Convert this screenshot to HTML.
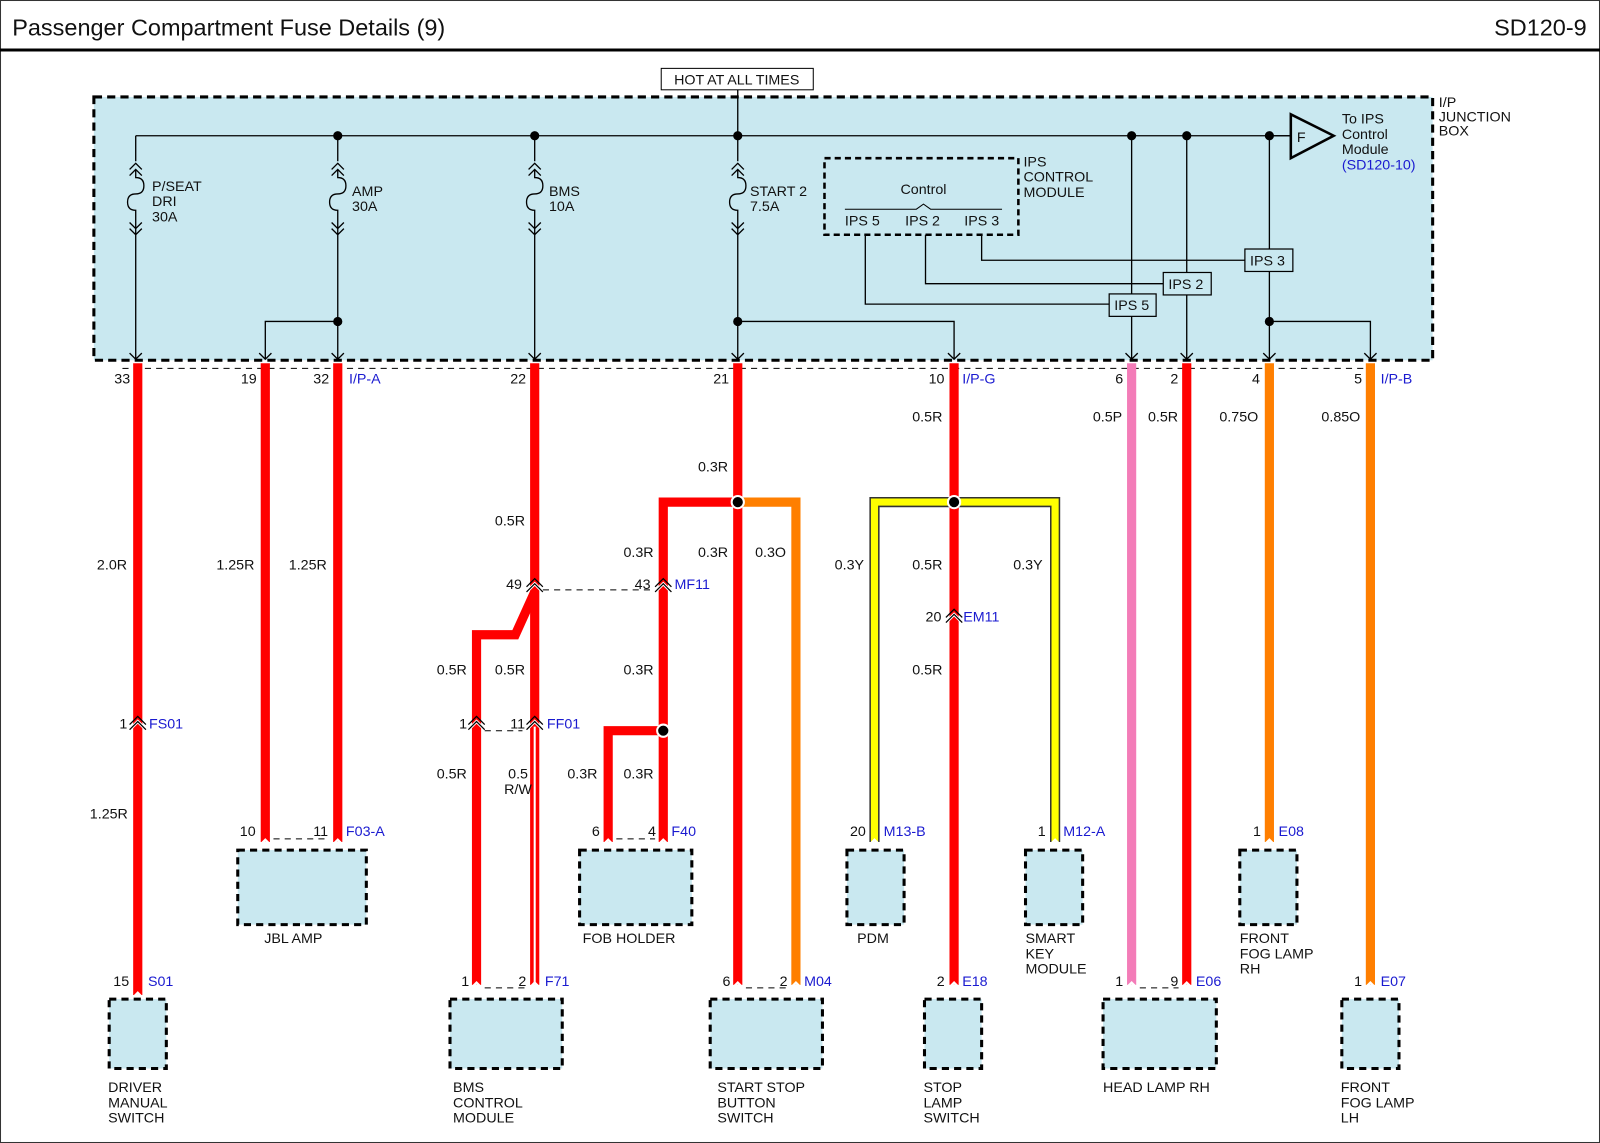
<!DOCTYPE html>
<html><head><meta charset="utf-8"><style>
html,body{margin:0;padding:0;background:#fff}
svg{display:block}
text{font-family:"Liberation Sans",Arial,sans-serif;font-size:14px;fill:#111}
.b{fill:#1a1ad0}
</style></head><body>
<svg width="1600" height="1143" viewBox="0 0 1568 1120" preserveAspectRatio="none" xmlns="http://www.w3.org/2000/svg">
<rect x="0.5" y="0.5" width="1567" height="1119" fill="#fff" stroke="#333"/>
<text x="12" y="35" style="font-size:23px">Passenger Compartment Fuse Details (9)</text>
<text x="1555" y="35" text-anchor="end" style="font-size:23px">SD120-9</text>
<line x1="0" y1="49" x2="1568" y2="49" stroke="#000" stroke-width="3"/>

<rect x="92" y="95" width="1312" height="258" fill="#c9e8f0" stroke="#000" stroke-width="3" stroke-dasharray="8,5"/>
<text x="1410" y="105">I/P</text><text x="1410" y="119">JUNCTION</text><text x="1410" y="133">BOX</text>
<rect x="648" y="67" width="149" height="21" fill="#fff" stroke="#000"/>
<text x="722" y="83" text-anchor="middle">HOT AT ALL TIMES</text>

<g stroke="#000" stroke-width="1.3" fill="none">
<line x1="723" y1="88" x2="723" y2="133"/>
<line x1="133" y1="133" x2="1265" y2="133"/>
<path d="M133 133V158M127 166l6-6 6 6M127 172l6-6 6 6M133 166V174q8 0 8 8t-8 8q-8 0-8 8t8 8V222M127 218l6 6 6-6M127 224l6 6 6-6M133 222V352M127 346l6 6 6-6"/>
<path d="M331 133V158M325 166l6-6 6 6M325 172l6-6 6 6M331 166V174q8 0 8 8t-8 8q-8 0-8 8t8 8V222M325 218l6 6 6-6M325 224l6 6 6-6M331 222V352M325 346l6 6 6-6"/>
<path d="M524 133V158M518 166l6-6 6 6M518 172l6-6 6 6M524 166V174q8 0 8 8t-8 8q-8 0-8 8t8 8V222M518 218l6 6 6-6M518 224l6 6 6-6M524 222V352M518 346l6 6 6-6"/>
<path d="M723 133V158M717 166l6-6 6 6M717 172l6-6 6 6M723 166V174q8 0 8 8t-8 8q-8 0-8 8t8 8V222M717 218l6 6 6-6M717 224l6 6 6-6M723 222V352M717 346l6 6 6-6"/>
<path d="M331 315H260V352M254 346l6 6 6-6"/>
<path d="M723 315H935V352M929 346l6 6 6-6"/>
<path d="M1244 133V352M1238 346l6 6 6-6M1244 315H1343V352M1337 346l6 6 6-6"/>
<path d="M1109 133V352M1103 346l6 6 6-6"/>
<path d="M1163 133V352M1157 346l6 6 6-6"/>
<path d="M848 230V298H1087M907 230V278H1140M962 230V255H1220"/>
<line x1="1244" y1="133" x2="1265" y2="133"/>
</g>
<g fill="#000">
<circle cx="331" cy="133" r="4.5"/><circle cx="524" cy="133" r="4.5"/><circle cx="723" cy="133" r="4.5"/>
<circle cx="1109" cy="133" r="4.5"/><circle cx="1163" cy="133" r="4.5"/><circle cx="1244" cy="133" r="4.5"/>
<circle cx="331" cy="315" r="4.5"/><circle cx="723" cy="315" r="4.5"/><circle cx="1244" cy="315" r="4.5"/>
</g>
<text x="149" y="187">P/SEAT</text><text x="149" y="202">DRI</text><text x="149" y="217">30A</text>
<text x="345" y="192">AMP</text><text x="345" y="207">30A</text>
<text x="538" y="192">BMS</text><text x="538" y="207">10A</text>
<text x="735" y="192">START 2</text><text x="735" y="207">7.5A</text>
<rect x="808" y="155" width="190" height="75" fill="none" stroke="#000" stroke-width="2.5" stroke-dasharray="6,4"/>
<text x="1003" y="163">IPS</text><text x="1003" y="178">CONTROL</text><text x="1003" y="193">MODULE</text>
<text x="905" y="190" text-anchor="middle">Control</text>
<path d="M828 205H898l7-5 7 5H982" fill="none" stroke="#000"/>
<text x="828" y="221">IPS 5</text><text x="887" y="221">IPS 2</text><text x="945" y="221">IPS 3</text>
<g fill="#c9e8f0" stroke="#000" stroke-width="1.2">
<rect x="1087" y="288" width="46" height="22"/><rect x="1140" y="267" width="47" height="22"/><rect x="1220" y="244" width="47" height="22"/>
</g>
<text x="1092" y="304">IPS 5</text><text x="1145" y="283">IPS 2</text><text x="1225" y="260">IPS 3</text>
<path d="M1265 112V155L1307 133Z" fill="#c9e8f0" stroke="#000" stroke-width="2.5"/>
<text x="1271" y="139" style="font-size:14px">F</text>
<text x="1315" y="121">To IPS</text><text x="1315" y="136">Control</text><text x="1315" y="151">Module</text><text x="1315" y="166" class="b">(SD120-10)</text>

<line x1="120" y1="361" x2="1350" y2="361" stroke="#000" stroke-dasharray="6,5"/>

<g fill="none" stroke-width="9" stroke-linejoin="miter">
<path d="M135 356V975" stroke="#f00"/>
<path d="M260 356V825M331 356V825" stroke="#f00"/>
<path d="M524 356V965" stroke="#f00"/>
<path d="M524 580L505 622H467V965" stroke="#f00"/>
<path d="M723 356V965" stroke="#f00"/>
<path d="M723 492H650V825M650 716H596V825" stroke="#f00"/>
<path d="M723 492H780V965" stroke="#ff7f00"/>
<path d="M935 356V965" stroke="#f00"/>
<path d="M1109 356V965" stroke="#f37cb8"/>
<path d="M1163 356V965" stroke="#f00"/>
<path d="M1244 356V825" stroke="#ff7f00"/>
<path d="M1343 356V965" stroke="#ff7f00"/>
<path d="M935 492H857V825M935 492H1034V825" stroke="#333" stroke-width="10"/>
<path d="M935 492H857V825M935 492H1034V825" stroke="#ff0" stroke-width="7"/>
<path d="M935 488V500" stroke="#f00"/>
</g>
<line x1="524" y1="712" x2="524" y2="965" stroke="#fff" stroke-width="2"/>
<g fill="#000" stroke="#fff" stroke-width="2">
<circle cx="723" cy="492" r="6"/><circle cx="935" cy="492" r="6"/><circle cx="650" cy="716" r="6"/>
</g>

<g fill="none" stroke="#fff" stroke-width="3">
<path d="M128 714l7-7 7 7M517 579l7-7 7 7M643 579l7-7 7 7M928 609l7-7 7 7M460 714l7-7 7 7M517 714l7-7 7 7"/>
</g>
<g fill="none" stroke="#000" stroke-width="1.2">
<path d="M127 710l8-8 8 8M127 715l8-8 8 8M516 575l8-8 8 8M516 580l8-8 8 8M642 575l8-8 8 8M642 580l8-8 8 8M927 605l8-8 8 8M927 610l8-8 8 8M459 710l8-8 8 8M459 715l8-8 8 8M516 710l8-8 8 8M516 715l8-8 8 8"/>
</g>
<g stroke="#000" stroke-dasharray="6,5"><line x1="532" y1="578" x2="640" y2="578"/><line x1="475" y1="716" x2="512" y2="716"/>
<line x1="268" y1="822" x2="323" y2="822"/><line x1="475" y1="968" x2="516" y2="968"/><line x1="731" y1="968" x2="772" y2="968"/><line x1="1117" y1="968" x2="1155" y2="968"/><line x1="604" y1="822" x2="642" y2="822"/></g>

<g fill="none" stroke="#fff" stroke-width="2.5">
<path d="M129 979l6-6 6 6M254 829l6-6 6 6M325 829l6-6 6 6M461 969l6-6 6 6M518 969l6-6 6 6M590 829l6-6 6 6M644 829l6-6 6 6M717 969l6-6 6 6M774 969l6-6 6 6M851 829l6-6 6 6M1028 829l6-6 6 6M929 969l6-6 6 6M1103 969l6-6 6 6M1157 969l6-6 6 6M1238 829l6-6 6 6M1337 969l6-6 6 6"/>
</g>

<text x="112" y="376">33</text><text x="236" y="376">19</text><text x="307" y="376">32</text><text x="342" y="376" class="b">I/P-A</text>
<text x="500" y="376">22</text><text x="699" y="376">21</text><text x="910" y="376">10</text><text x="943" y="376" class="b">I/P-G</text>
<text x="1093" y="376">6</text><text x="1147" y="376">2</text><text x="1227" y="376">4</text><text x="1327" y="376">5</text><text x="1353" y="376" class="b">I/P-B</text>

<text x="95" y="558">2.0R</text><text x="212" y="558">1.25R</text><text x="283" y="558">1.25R</text>
<text x="485" y="515">0.5R</text><text x="684" y="462">0.3R</text>
<text x="611" y="546">0.3R</text><text x="684" y="546">0.3R</text><text x="740" y="546">0.3O</text>
<text x="894" y="413">0.5R</text><text x="818" y="558">0.3Y</text><text x="894" y="558">0.5R</text><text x="993" y="558">0.3Y</text>
<text x="1071" y="413">0.5P</text><text x="1125" y="413">0.5R</text><text x="1195" y="413">0.75O</text><text x="1295" y="413">0.85O</text>
<text x="496" y="577">49</text><text x="622" y="577">43</text><text x="661" y="577" class="b">MF11</text>
<text x="428" y="661">0.5R</text><text x="485" y="661">0.5R</text><text x="611" y="661">0.3R</text><text x="894" y="661">0.5R</text>
<text x="907" y="609">20</text><text x="944" y="609" class="b">EM11</text>
<text x="117" y="714">1</text><text x="146" y="714" class="b">FS01</text>
<text x="450" y="714">1</text><text x="500" y="714">11</text><text x="536" y="714" class="b">FF01</text>
<text x="88" y="802">1.25R</text>
<text x="428" y="763">0.5R</text><text x="498" y="763">0.5</text><text x="494" y="778">R/W</text>
<text x="556" y="763">0.3R</text><text x="611" y="763">0.3R</text>

<text x="235" y="819">10</text><text x="307" y="819">11</text><text x="339" y="819" class="b">F03-A</text>
<text x="580" y="819">6</text><text x="635" y="819">4</text><text x="658" y="819" class="b">F40</text>
<text x="833" y="819">20</text><text x="866" y="819" class="b">M13-B</text>
<text x="1017" y="819">1</text><text x="1042" y="819" class="b">M12-A</text>
<text x="1228" y="819">1</text><text x="1253" y="819" class="b">E08</text>
<text x="111" y="966">15</text><text x="145" y="966" class="b">S01</text>
<text x="452" y="966">1</text><text x="508" y="966">2</text><text x="534" y="966" class="b">F71</text>
<text x="708" y="966">6</text><text x="764" y="966">2</text><text x="788" y="966" class="b">M04</text>
<text x="918" y="966">2</text><text x="943" y="966" class="b">E18</text>
<text x="1093" y="966">1</text><text x="1147" y="966">9</text><text x="1172" y="966" class="b">E06</text>
<text x="1327" y="966">1</text><text x="1353" y="966" class="b">E07</text>

<g fill="#c9e8f0" stroke="#000" stroke-width="3" stroke-dasharray="7,5">
<rect x="107" y="979" width="56" height="68"/>
<rect x="233" y="833" width="126" height="73"/>
<rect x="441" y="979" width="110" height="68"/>
<rect x="568" y="833" width="110" height="73"/>
<rect x="696" y="979" width="110" height="68"/>
<rect x="830" y="833" width="56" height="73"/>
<rect x="1005" y="833" width="56" height="73"/>
<rect x="906" y="979" width="56" height="68"/>
<rect x="1081" y="979" width="111" height="68"/>
<rect x="1215" y="833" width="56" height="73"/>
<rect x="1315" y="979" width="56" height="68"/>
</g>
<text x="259" y="924">JBL AMP</text>
<text x="571" y="924">FOB HOLDER</text>
<text x="840" y="924">PDM</text>
<text x="1005" y="924">SMART</text><text x="1005" y="939">KEY</text><text x="1005" y="954">MODULE</text>
<text x="1215" y="924">FRONT</text><text x="1215" y="939">FOG LAMP</text><text x="1215" y="954">RH</text>
<text x="106" y="1070">DRIVER</text><text x="106" y="1085">MANUAL</text><text x="106" y="1100">SWITCH</text>
<text x="444" y="1070">BMS</text><text x="444" y="1085">CONTROL</text><text x="444" y="1100">MODULE</text>
<text x="703" y="1070">START STOP</text><text x="703" y="1085">BUTTON</text><text x="703" y="1100">SWITCH</text>
<text x="905" y="1070">STOP</text><text x="905" y="1085">LAMP</text><text x="905" y="1100">SWITCH</text>
<text x="1081" y="1070">HEAD LAMP RH</text>
<text x="1314" y="1070">FRONT</text><text x="1314" y="1085">FOG LAMP</text><text x="1314" y="1100">LH</text>
</svg>
</body></html>
